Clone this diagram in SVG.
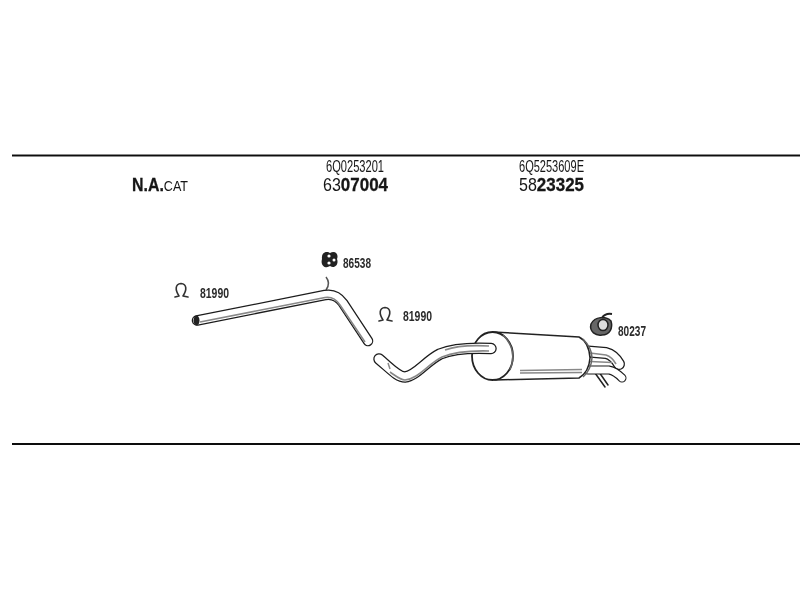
<svg xmlns="http://www.w3.org/2000/svg" width="800" height="600" viewBox="0 0 800 600">
<defs><filter id="soft" x="-2%" y="-2%" width="104%" height="104%"><feGaussianBlur stdDeviation="0.4"/></filter></defs>
<style>
text{font-family:"Liberation Sans",Arial,sans-serif;fill:#151515}
.b{font-weight:700;stroke:#151515;stroke-width:.3}
.code{font-size:16px}
.num{font-size:18px}
.lbl{font-size:14px;font-weight:700;fill:#2a2a2a}
.rule{stroke:#111;stroke-width:2;fill:none}
.pipeO{fill:none;stroke:#1c1c1c;stroke-linejoin:round;stroke-linecap:round}
.pipeW{fill:none;stroke:#fff;stroke-linejoin:round;stroke-linecap:round}
.pipeG{fill:none;stroke:#888;stroke-width:1.6}
.ln{fill:none;stroke:#222;stroke-width:1.5;stroke-linecap:round;stroke-linejoin:round}
.clip{fill:none;stroke:#333;stroke-width:1.6;stroke-linecap:round;stroke-linejoin:round}
</style>
<rect width="800" height="600" fill="#fff"/>
<g filter="url(#soft)">
<g id="rules">
<line class="rule" x1="12" y1="155.500" x2="800" y2="155.500"/>
<line class="rule" x1="12" y1="444" x2="800" y2="444"/>
</g>
<g id="header-cat">
<text x="132" y="191" class="num" textLength="56" lengthAdjust="spacingAndGlyphs"><tspan class="b" font-size="19">N.A.</tspan><tspan font-size="15">CAT</tspan></text>
</g>
<g id="header-front">
<text x="326" y="172" class="code" textLength="58" lengthAdjust="spacingAndGlyphs">6Q0253201</text>
<text x="323" y="191" class="num" textLength="65" lengthAdjust="spacingAndGlyphs">63<tspan class="b" font-size="19">07004</tspan></text>
</g>
<g id="header-rear">
<text x="519" y="172" class="code" textLength="65" lengthAdjust="spacingAndGlyphs">6Q5253609E</text>
<text x="519" y="191" class="num" textLength="65" lengthAdjust="spacingAndGlyphs">58<tspan class="b" font-size="19">23325</tspan></text>
</g>
<g id="clamp-left">
<path class="clip" d="M175 297 L179 296 C175 290 175 284 181 283.500 C187 284 187 290 183 296 L188 297"/>
<text x="200" y="298" class="lbl" textLength="29" lengthAdjust="spacingAndGlyphs">81990</text>
</g>
<g id="front-pipe">
<path d="M326 290 C329 286 330 282 326 277" fill="none" stroke="#555" stroke-width="1.500"/>
<path class="pipeO" stroke-width="10.500" d="M197 320.500 L325 295 Q336 293 343 303 L368 341"/>
<path class="pipeW" stroke-width="8" d="M197 320.500 L325 295 Q336 293 343 303 L368 341"/>
<path class="pipeG" d="M200 322 L325 297.500 Q334 296 340 305 L365 342"/>
<ellipse cx="196.500" cy="320.500" rx="3" ry="5" fill="#222"/>
</g>
<g id="hanger-86538">
<path d="M322 259 C321 251 328 251 330 253 C335 250 339 254 337 259 C339 264 335 269 330 266 C326 269 320 266 322 259Z" fill="#222"/>
<circle cx="329" cy="256" r="1.600" fill="#fff"/>
<circle cx="329" cy="263" r="1.600" fill="#fff"/>
<circle cx="334" cy="260" r="1.500" fill="#fff"/>
<text x="343" y="268" class="lbl" textLength="28" lengthAdjust="spacingAndGlyphs">86538</text>
</g>
<g id="clamp-right">
<path class="clip" d="M379 321 L383 320 C379 314 379 308 385 307.500 C391 308 391 314 387 320 L392 321"/>
<text x="403" y="321" class="lbl" textLength="29" lengthAdjust="spacingAndGlyphs">81990</text>
</g>
<g id="rear-silencer">
<path class="ln" d="M595 373 L605 387 M599 372 L608 385"/>
<path class="pipeO" stroke-width="12" d="M588 351.500 L606 353 Q614 355 619 364"/>
<path class="pipeW" stroke-width="9.500" d="M588 351.500 L606 353 Q614 355 619 364"/>
<path class="pipeG" d="M590 353 L606 355 Q612 357 616 364"/>
<path class="pipeO" stroke-width="9" d="M588 370 L609 370 Q615 371 622 378"/>
<path class="pipeW" stroke-width="6.800" d="M588 370 L609 370 Q615 371 622 378"/>
<path class="pipeG" d="M590 361.500 L612 362.500"/>
<path d="M493 332 L579 337 Q589 342 590 358 Q589 372 579 378 L495 380 Z" fill="#fff" stroke="#222" stroke-width="1.500"/>
<path d="M520 370.500 L582 369.500 M520 373 L582 372.500" stroke="#888" stroke-width="1.300" fill="none"/>
<path d="M583 339 Q592 348 592 358 Q591 370 583 377" fill="none" stroke="#666" stroke-width="1.500"/>
<ellipse cx="492.500" cy="356" rx="20.500" ry="24" fill="#fff" stroke="#222" stroke-width="1.800"/>
<path d="M503 335 Q518 350 510 370" fill="none" stroke="#666" stroke-width="1.500"/>
<path class="pipeO" stroke-width="11.500" d="M491 348.500 C470 347.500 452 349 440 354 C426 361 416 376 405 377 C398 377 392 370 379 359"/>
<path class="pipeW" stroke-width="9" d="M491 348.500 C470 347.500 452 349 440 354 C426 361 416 376 405 377 C398 377 392 370 379 359"/>
<path class="pipeG" d="M489 351 C470 350.500 454 352 442 357 C428 364 418 379 405 380 C400 380 396 376 390 372"/>
<path class="pipeG" d="M489 346 C472 345 456 346 445 350"/>
<path d="M388 363 L390 369" stroke="#888" stroke-width="1.500" fill="none"/>
</g>
<g id="bracket-80237">
<path d="M591 324 C595 316 606 316 611 321 C613 328 610 335 602 335 C596 336 589 332 591 324Z" fill="#666" stroke="#222" stroke-width="1.500"/>
<ellipse cx="603" cy="325" rx="5" ry="5.500" fill="#ddd" stroke="#222" stroke-width="1.500"/>
<path d="M602 318 Q605 313 612 314" stroke="#222" stroke-width="2" fill="none"/>
<text x="618" y="336" class="lbl" textLength="28" lengthAdjust="spacingAndGlyphs">80237</text>
</g>
</g>
</svg>
